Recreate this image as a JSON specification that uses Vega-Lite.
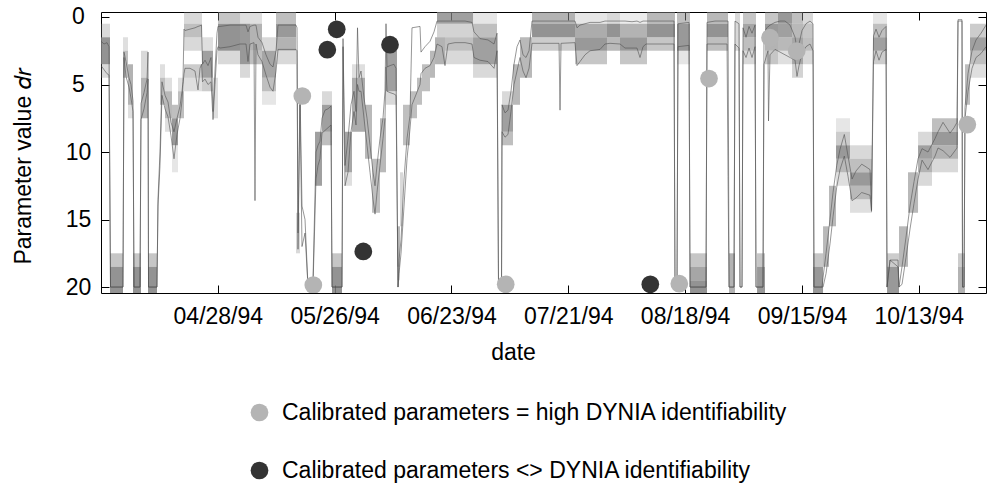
{
  "$schema": "https://vega.github.io/schema/vega-lite/v6.json",
  "width": 885,
  "height": 281,
  "autosize": {"type": "none"},
  "padding": {"left": 101, "top": 12, "right": 2, "bottom": 193},
  "config": {
    "view": {"stroke": "#000", "strokeWidth": 1},
    "font": "Liberation Sans",
    "axis": {"labelFont": "Liberation Sans", "titleFont": "Liberation Sans", "labelFontSize": 23, "titleFontSize": 23, "labelColor": "#000", "titleColor": "#000", "tickColor": "#000", "tickWidth": 1, "grid": false, "domain": false, "titleFontWeight": "normal"},
    "legend": {"labelFont": "Liberation Sans", "labelFontSize": 23, "labelColor": "#000", "labelLimit": 0}
  },
  "datasets": {
    "cells": [
      {"d0":90.00,"d1":92.16,"v0":1.5,"v1":3.5,"g":0.85},{"d0":90.00,"d1":92.16,"v0":0.5,"v1":1.5,"g":0.3},{"d0":90.00,"d1":92.16,"v0":3.5,"v1":4.5,"g":0.3},
      {"d0":92.16,"d1":95.27,"v0":17.5,"v1":18.5,"g":0.45},{"d0":92.16,"d1":95.27,"v0":18.5,"v1":20.5,"g":0.85},
      {"d0":95.27,"d1":96.47,"v0":2.5,"v1":4.5,"g":0.5},{"d0":95.27,"d1":96.47,"v0":1.5,"v1":2.5,"g":0.25},
      {"d0":96.47,"d1":97.67,"v0":3.5,"v1":6.5,"g":0.6},{"d0":96.47,"d1":97.67,"v0":6.5,"v1":7.5,"g":0.25},
      {"d0":97.67,"d1":99.59,"v0":17.5,"v1":18.5,"g":0.45},{"d0":97.67,"d1":99.59,"v0":18.5,"v1":20.5,"g":0.85},
      {"d0":99.59,"d1":101.27,"v0":4.5,"v1":7.5,"g":0.6},{"d0":99.59,"d1":101.27,"v0":2.5,"v1":4.5,"g":0.3},
      {"d0":101.27,"d1":103.42,"v0":17.5,"v1":18.5,"g":0.45},{"d0":101.27,"d1":103.42,"v0":18.5,"v1":20.5,"g":0.85},
      {"d0":104.14,"d1":105.34,"v0":4.5,"v1":6.5,"g":0.5},{"d0":104.14,"d1":105.34,"v0":3.5,"v1":4.5,"g":0.25},
      {"d0":105.34,"d1":107.02,"v0":5.5,"v1":7.5,"g":0.55},{"d0":105.34,"d1":107.02,"v0":4.5,"v1":5.5,"g":0.25},{"d0":105.34,"d1":107.02,"v0":7.5,"v1":8.5,"g":0.25},
      {"d0":107.02,"d1":108.46,"v0":7.5,"v1":9.5,"g":0.8},{"d0":107.02,"d1":108.46,"v0":6.5,"v1":7.5,"g":0.5},{"d0":107.02,"d1":108.46,"v0":9.5,"v1":11.5,"g":0.2},
      {"d0":108.46,"d1":109.89,"v0":5.5,"v1":7.5,"g":0.5},{"d0":108.46,"d1":109.89,"v0":4.5,"v1":5.5,"g":0.25},
      {"d0":109.89,"d1":114.21,"v0":-0.5,"v1":0.5,"g":0.3},{"d0":109.89,"d1":114.21,"v0":0.5,"v1":1.5,"g":0.5},{"d0":109.89,"d1":114.21,"v0":1.5,"v1":2.5,"g":0.3},{"d0":109.89,"d1":114.21,"v0":3.5,"v1":4.5,"g":0.4},{"d0":109.89,"d1":114.21,"v0":4.5,"v1":5.5,"g":0.25},
      {"d0":114.21,"d1":116.85,"v0":2.5,"v1":4.5,"g":0.75},{"d0":114.21,"d1":116.85,"v0":4.5,"v1":5.5,"g":0.4},{"d0":114.21,"d1":116.85,"v0":1.5,"v1":2.5,"g":0.25},
      {"d0":116.85,"d1":118.04,"v0":4.5,"v1":7.5,"g":0.25},
      {"d0":118.04,"d1":123.32,"v0":-0.5,"v1":0.5,"g":0.45},{"d0":118.04,"d1":123.32,"v0":0.5,"v1":2.5,"g":0.85},{"d0":118.04,"d1":123.32,"v0":2.5,"v1":3.5,"g":0.3},
      {"d0":123.32,"d1":125.71,"v0":0.5,"v1":3.5,"g":0.8},{"d0":123.32,"d1":125.71,"v0":-0.5,"v1":0.5,"g":0.25},{"d0":123.32,"d1":125.71,"v0":3.5,"v1":4.5,"g":0.3},
      {"d0":125.71,"d1":128.59,"v0":0.5,"v1":2.5,"g":0.6},{"d0":125.71,"d1":128.59,"v0":2.5,"v1":3.5,"g":0.5},{"d0":125.71,"d1":128.59,"v0":-0.5,"v1":0.5,"g":0.25},
      {"d0":128.59,"d1":131.95,"v0":2.5,"v1":4.5,"g":0.7},{"d0":128.59,"d1":131.95,"v0":4.5,"v1":5.5,"g":0.5},{"d0":128.59,"d1":131.95,"v0":1.5,"v1":2.5,"g":0.3},{"d0":128.59,"d1":131.95,"v0":5.5,"v1":6.5,"g":0.2},
      {"d0":131.95,"d1":136.74,"v0":-0.5,"v1":0.5,"g":0.5},{"d0":131.95,"d1":136.74,"v0":0.5,"v1":1.5,"g":0.8},{"d0":131.95,"d1":136.74,"v0":1.5,"v1":2.5,"g":0.6},{"d0":131.95,"d1":136.74,"v0":2.5,"v1":3.5,"g":0.3},
      {"d0":136.74,"d1":137.70,"v0":14.5,"v1":17.5,"g":0.3},
      {"d0":141.29,"d1":142.97,"v0":8.5,"v1":12.5,"g":0.75},
      {"d0":142.97,"d1":145.37,"v0":5.5,"v1":6.5,"g":0.3},{"d0":142.97,"d1":145.37,"v0":6.5,"v1":8.5,"g":0.75},{"d0":142.97,"d1":145.37,"v0":8.5,"v1":9.5,"g":0.5},
      {"d0":145.37,"d1":147.77,"v0":17.5,"v1":18.5,"g":0.45},{"d0":145.37,"d1":147.77,"v0":18.5,"v1":20.5,"g":0.85},
      {"d0":148.48,"d1":150.16,"v0":8.5,"v1":11.5,"g":0.7},{"d0":148.48,"d1":150.16,"v0":11.5,"v1":12.5,"g":0.25},
      {"d0":150.16,"d1":153.28,"v0":4.5,"v1":8.5,"g":0.65},{"d0":150.16,"d1":153.28,"v0":3.5,"v1":4.5,"g":0.25},
      {"d0":153.28,"d1":154.96,"v0":6.5,"v1":10.5,"g":0.55},
      {"d0":154.96,"d1":156.87,"v0":10.5,"v1":14.5,"g":0.5},
      {"d0":156.87,"d1":158.31,"v0":7.5,"v1":11.5,"g":0.55},
      {"d0":158.31,"d1":160.95,"v0":2.5,"v1":5.5,"g":0.75},{"d0":158.31,"d1":160.95,"v0":5.5,"v1":6.5,"g":0.3},
      {"d0":160.95,"d1":161.67,"v0":15.5,"v1":18.5,"g":0.55},{"d0":160.95,"d1":161.67,"v0":18.5,"v1":19.5,"g":0.25},
      {"d0":161.67,"d1":162.39,"v0":11.5,"v1":15.5,"g":0.3},
      {"d0":162.39,"d1":164.06,"v0":6.5,"v1":9.5,"g":0.5},
      {"d0":164.06,"d1":165.74,"v0":5.5,"v1":7.5,"g":0.5},
      {"d0":165.74,"d1":166.94,"v0":4.5,"v1":6.5,"g":0.5},
      {"d0":166.94,"d1":168.86,"v0":3.5,"v1":5.5,"g":0.5},
      {"d0":168.86,"d1":170.06,"v0":2.5,"v1":4.5,"g":0.55},
      {"d0":170.06,"d1":172.45,"v0":1.5,"v1":3.5,"g":0.6},
      {"d0":170.54,"d1":179.17,"v0":-0.5,"v1":0.5,"g":0.75},{"d0":170.54,"d1":179.17,"v0":0.5,"v1":1.5,"g":0.35},
      {"d0":172.45,"d1":179.17,"v0":1.5,"v1":2.5,"g":0.5},{"d0":172.45,"d1":179.17,"v0":2.5,"v1":3.5,"g":0.3},
      {"d0":179.17,"d1":184.92,"v0":-0.5,"v1":0.5,"g":0.2},{"d0":179.17,"d1":184.92,"v0":0.5,"v1":1.5,"g":0.5},{"d0":179.17,"d1":184.92,"v0":1.5,"v1":3.5,"g":0.75},{"d0":179.17,"d1":184.92,"v0":3.5,"v1":4.5,"g":0.3},
      {"d0":186.12,"d1":188.75,"v0":5.5,"v1":6.5,"g":0.3},{"d0":186.12,"d1":188.75,"v0":6.5,"v1":8.5,"g":0.75},{"d0":186.12,"d1":188.75,"v0":8.5,"v1":9.5,"g":0.5},
      {"d0":188.75,"d1":190.43,"v0":3.5,"v1":6.5,"g":0.55},
      {"d0":190.43,"d1":193.31,"v0":1.5,"v1":4.5,"g":0.55},
      {"d0":193.31,"d1":203.61,"v0":-0.5,"v1":0.5,"g":0.6},{"d0":193.31,"d1":203.61,"v0":0.5,"v1":1.5,"g":0.85},{"d0":193.31,"d1":203.61,"v0":1.5,"v1":2.5,"g":0.4},
      {"d0":203.61,"d1":211.28,"v0":-0.5,"v1":0.5,"g":0.2},{"d0":203.61,"d1":211.28,"v0":0.5,"v1":1.5,"g":0.65},{"d0":203.61,"d1":211.28,"v0":1.5,"v1":2.5,"g":0.8},{"d0":203.61,"d1":211.28,"v0":2.5,"v1":3.5,"g":0.45},
      {"d0":211.28,"d1":214.40,"v0":-0.5,"v1":0.5,"g":0.3},{"d0":211.28,"d1":214.40,"v0":0.5,"v1":1.5,"g":0.85},{"d0":211.28,"d1":214.40,"v0":1.5,"v1":2.5,"g":0.55},
      {"d0":214.40,"d1":220.87,"v0":-0.5,"v1":0.5,"g":0.15},{"d0":214.40,"d1":220.87,"v0":0.5,"v1":1.5,"g":0.6},{"d0":214.40,"d1":220.87,"v0":1.5,"v1":2.5,"g":0.8},{"d0":214.40,"d1":220.87,"v0":2.5,"v1":3.5,"g":0.45},
      {"d0":220.87,"d1":227.58,"v0":-0.5,"v1":0.5,"g":0.55},{"d0":220.87,"d1":227.58,"v0":0.5,"v1":1.5,"g":0.85},{"d0":220.87,"d1":227.58,"v0":1.5,"v1":2.5,"g":0.45},
      {"d0":228.06,"d1":231.18,"v0":-0.5,"v1":0.5,"g":0.5},{"d0":228.06,"d1":231.18,"v0":0.5,"v1":2.5,"g":0.8},{"d0":228.06,"d1":231.18,"v0":2.5,"v1":3.5,"g":0.2},
      {"d0":231.18,"d1":235.25,"v0":17.5,"v1":18.5,"g":0.45},{"d0":231.18,"d1":235.25,"v0":18.5,"v1":19.5,"g":0.7},{"d0":231.18,"d1":235.25,"v0":19.5,"v1":20.5,"g":0.85},
      {"d0":235.25,"d1":240.29,"v0":-0.5,"v1":0.5,"g":0.55},{"d0":235.25,"d1":240.29,"v0":0.5,"v1":1.5,"g":0.85},{"d0":235.25,"d1":240.29,"v0":1.5,"v1":2.5,"g":0.5},
      {"d0":240.53,"d1":241.96,"v0":17.5,"v1":20.5,"g":0.6},
      {"d0":241.96,"d1":243.16,"v0":-0.5,"v1":2.5,"g":0.3},
      {"d0":243.88,"d1":247.00,"v0":-0.5,"v1":0.5,"g":0.45},{"d0":243.88,"d1":247.00,"v0":0.5,"v1":1.5,"g":0.7},{"d0":243.88,"d1":247.00,"v0":1.5,"v1":2.5,"g":0.5},{"d0":243.88,"d1":247.00,"v0":2.5,"v1":3.5,"g":0.3},
      {"d0":247.24,"d1":249.15,"v0":17.5,"v1":18.5,"g":0.45},{"d0":247.24,"d1":249.15,"v0":18.5,"v1":20.5,"g":0.8},
      {"d0":249.15,"d1":252.27,"v0":-0.5,"v1":0.5,"g":0.45},{"d0":249.15,"d1":252.27,"v0":0.5,"v1":1.5,"g":0.8},{"d0":249.15,"d1":252.27,"v0":1.5,"v1":2.5,"g":0.6},{"d0":249.15,"d1":252.27,"v0":2.5,"v1":3.5,"g":0.45},
      {"d0":252.27,"d1":255.63,"v0":-0.5,"v1":0.5,"g":0.8},{"d0":252.27,"d1":255.63,"v0":0.5,"v1":1.5,"g":0.75},{"d0":252.27,"d1":255.63,"v0":1.5,"v1":2.5,"g":0.55},{"d0":252.27,"d1":255.63,"v0":2.5,"v1":3.5,"g":0.25},
      {"d0":255.63,"d1":258.26,"v0":-0.5,"v1":0.5,"g":0.5},{"d0":255.63,"d1":258.26,"v0":0.5,"v1":1.5,"g":0.55},{"d0":255.63,"d1":258.26,"v0":1.5,"v1":3.5,"g":0.7},{"d0":255.63,"d1":258.26,"v0":3.5,"v1":4.5,"g":0.35},
      {"d0":258.26,"d1":260.66,"v0":-0.5,"v1":0.5,"g":0.3},{"d0":258.26,"d1":260.66,"v0":0.5,"v1":1.5,"g":0.45},{"d0":258.26,"d1":260.66,"v0":1.5,"v1":2.5,"g":0.5},{"d0":258.26,"d1":260.66,"v0":2.5,"v1":3.5,"g":0.3},
      {"d0":260.66,"d1":263.06,"v0":17.5,"v1":18.5,"g":0.45},{"d0":260.66,"d1":263.06,"v0":18.5,"v1":20.5,"g":0.8},
      {"d0":263.06,"d1":264.49,"v0":15.5,"v1":18.5,"g":0.55},
      {"d0":264.49,"d1":266.17,"v0":12.5,"v1":15.5,"g":0.55},
      {"d0":266.17,"d1":269.53,"v0":7.5,"v1":8.5,"g":0.2},{"d0":266.17,"d1":269.53,"v0":8.5,"v1":9.5,"g":0.4},{"d0":266.17,"d1":269.53,"v0":9.5,"v1":10.5,"g":0.8},{"d0":266.17,"d1":269.53,"v0":10.5,"v1":11.5,"g":0.55},{"d0":266.17,"d1":269.53,"v0":11.5,"v1":12.5,"g":0.25},
      {"d0":269.53,"d1":274.80,"v0":9.5,"v1":10.5,"g":0.3},{"d0":269.53,"d1":274.80,"v0":10.5,"v1":11.5,"g":0.5},{"d0":269.53,"d1":274.80,"v0":11.5,"v1":12.5,"g":0.8},{"d0":269.53,"d1":274.80,"v0":12.5,"v1":13.5,"g":0.55},{"d0":269.53,"d1":274.80,"v0":13.5,"v1":14.5,"g":0.25},
      {"d0":275.04,"d1":278.40,"v0":-0.5,"v1":0.5,"g":0.2},{"d0":275.04,"d1":278.40,"v0":0.5,"v1":1.5,"g":0.5},{"d0":275.04,"d1":278.40,"v0":1.5,"v1":2.5,"g":0.75},{"d0":275.04,"d1":278.40,"v0":2.5,"v1":3.5,"g":0.4},
      {"d0":278.40,"d1":281.27,"v0":17.5,"v1":18.5,"g":0.4},{"d0":278.40,"d1":281.27,"v0":18.5,"v1":20.5,"g":0.8},
      {"d0":281.27,"d1":283.43,"v0":15.5,"v1":18.5,"g":0.55},
      {"d0":283.43,"d1":285.83,"v0":11.5,"v1":14.5,"g":0.55},
      {"d0":285.83,"d1":289.18,"v0":8.5,"v1":9.5,"g":0.3},{"d0":285.83,"d1":289.18,"v0":9.5,"v1":10.5,"g":0.75},{"d0":285.83,"d1":289.18,"v0":10.5,"v1":11.5,"g":0.6},{"d0":285.83,"d1":289.18,"v0":11.5,"v1":12.5,"g":0.3},
      {"d0":289.18,"d1":295.41,"v0":7.5,"v1":8.5,"g":0.5},{"d0":289.18,"d1":295.41,"v0":8.5,"v1":9.5,"g":0.8},{"d0":289.18,"d1":295.41,"v0":9.5,"v1":10.5,"g":0.6},{"d0":289.18,"d1":295.41,"v0":10.5,"v1":11.5,"g":0.3},
      {"d0":295.41,"d1":297.09,"v0":17.5,"v1":18.5,"g":0.4},{"d0":295.41,"d1":297.09,"v0":18.5,"v1":20.5,"g":0.6},
      {"d0":297.09,"d1":298.29,"v0":3.5,"v1":6.5,"g":0.5},
      {"d0":298.29,"d1":302.12,"v0":0.5,"v1":1.5,"g":0.4},{"d0":298.29,"d1":302.12,"v0":1.5,"v1":2.5,"g":0.75},{"d0":298.29,"d1":302.12,"v0":2.5,"v1":3.5,"g":0.5},{"d0":298.29,"d1":302.12,"v0":3.5,"v1":4.5,"g":0.25}
    ],
    "bounds": [
      {"doy":90.00,"a":1.8,"b":3.6},{"doy":90.72,"a":2.0,"b":3.9},{"doy":91.44,"a":1.9,"b":4.2},{"doy":91.92,"a":2.2,"b":4.3},
      {"doy":92.28,"a":20,"b":20},{"doy":95.27,"a":20,"b":20},{"doy":95.51,"a":2.6,"b":3.0},{"doy":95.99,"a":3.3,"b":4.4},
      {"doy":96.71,"a":4.5,"b":5.2},{"doy":97.19,"a":5.0,"b":6.0},{"doy":97.67,"a":6.2,"b":7.0},{"doy":97.91,"a":20,"b":20},
      {"doy":99.35,"a":20,"b":20},{"doy":99.59,"a":6.4,"b":7.6},{"doy":100.31,"a":5.6,"b":6.8},{"doy":101.03,"a":4.6,"b":5.6},
      {"doy":101.27,"a":2.6,"b":4.6},{"doy":101.39,"a":20,"b":20},{"doy":103.42,"a":20,"b":20},{"doy":103.66,"a":13.5,"b":14.0},
      {"doy":104.14,"a":10.0,"b":11.0},{"doy":104.62,"a":4.8,"b":5.8},{"doy":105.34,"a":5.8,"b":6.8},{"doy":106.06,"a":6.3,"b":7.4},
      {"doy":106.78,"a":7.8,"b":8.8},{"doy":107.50,"a":8.5,"b":10.5},{"doy":108.22,"a":7.5,"b":8.7},{"doy":108.94,"a":6.6,"b":7.5},
      {"doy":109.42,"a":5.5,"b":6.2},{"doy":109.65,"a":4.8,"b":5.0},{"doy":109.89,"a":0.9,"b":4.2},{"doy":110.13,"a":1.0,"b":3.8},
      {"doy":111.33,"a":0.9,"b":3.8},{"doy":112.53,"a":0.8,"b":4.0},{"doy":113.25,"a":0.7,"b":5.4},{"doy":113.73,"a":0.65,"b":3.8},
      {"doy":114.09,"a":0.6,"b":3.5},{"doy":114.33,"a":3.5,"b":4.8},{"doy":114.93,"a":3.2,"b":4.6},{"doy":115.65,"a":3.6,"b":5.0},
      {"doy":116.37,"a":3.0,"b":4.8},{"doy":116.85,"a":7.0,"b":7.6},{"doy":117.32,"a":4.0,"b":5.0},{"doy":117.80,"a":1.2,"b":2.5},
      {"doy":118.04,"a":0.7,"b":2.2},{"doy":118.52,"a":0.7,"b":2.3},{"doy":120.92,"a":0.6,"b":2.2},{"doy":123.32,"a":0.6,"b":2.0},
      {"doy":124.76,"a":0.6,"b":2.0},{"doy":125.23,"a":1.1,"b":3.3},{"doy":125.71,"a":0.7,"b":2.0},{"doy":126.67,"a":0.6,"b":1.9},
      {"doy":126.91,"a":0.6,"b":13.6},{"doy":127.15,"a":0.6,"b":2.0},{"doy":127.63,"a":1.5,"b":2.8},{"doy":128.59,"a":1.9,"b":3.3},
      {"doy":129.55,"a":2.8,"b":4.3},{"doy":130.51,"a":3.5,"b":5.2},{"doy":131.23,"a":3.7,"b":5.5},{"doy":131.95,"a":2.5,"b":4.0},
      {"doy":132.43,"a":0.6,"b":2.4},{"doy":133.38,"a":0.6,"b":2.4},{"doy":135.30,"a":0.6,"b":2.4},{"doy":136.74,"a":0.6,"b":2.4},
      {"doy":136.98,"a":0.8,"b":2.5},{"doy":137.22,"a":16.0,"b":17.2},{"doy":137.70,"a":5.5,"b":6.5},{"doy":138.18,"a":14.0,"b":17.0},
      {"doy":138.90,"a":15.0,"b":16.0},{"doy":139.62,"a":20,"b":20},{"doy":140.81,"a":19.5,"b":20},{"doy":141.53,"a":10.0,"b":12.0},
      {"doy":142.01,"a":9.5,"b":11.0},{"doy":142.49,"a":9.2,"b":10.5},{"doy":142.97,"a":7.5,"b":8.6},{"doy":143.69,"a":6.9,"b":8.4},
      {"doy":144.41,"a":6.8,"b":8.2},{"doy":145.13,"a":6.6,"b":8.0},{"doy":145.37,"a":20,"b":20},{"doy":147.77,"a":20,"b":20},
      {"doy":148.01,"a":1.6,"b":2.2},{"doy":148.48,"a":11.0,"b":12.5},{"doy":149.20,"a":9.0,"b":11.5},{"doy":149.92,"a":6.5,"b":8.5},
      {"doy":150.64,"a":5.5,"b":7.0},{"doy":151.12,"a":7.0,"b":8.0},{"doy":151.48,"a":0.8,"b":5.0},{"doy":151.84,"a":4.5,"b":5.5},
      {"doy":152.32,"a":4.0,"b":5.5},{"doy":153.04,"a":6.0,"b":7.5},{"doy":153.76,"a":7.5,"b":9.5},{"doy":154.48,"a":9.5,"b":11.5},
      {"doy":155.20,"a":11.5,"b":13.5},{"doy":155.68,"a":12.5,"b":14.6},{"doy":156.15,"a":11.0,"b":13.0},{"doy":156.87,"a":9.0,"b":11.0},
      {"doy":157.59,"a":7.5,"b":9.0},{"doy":158.07,"a":5.5,"b":7.5},{"doy":158.31,"a":0.5,"b":3.7},{"doy":158.55,"a":3.7,"b":5.5},
      {"doy":159.27,"a":3.6,"b":5.6},{"doy":160.23,"a":3.5,"b":5.7},{"doy":160.71,"a":3.8,"b":5.8},{"doy":161.19,"a":20,"b":20},
      {"doy":161.43,"a":18.0,"b":19.0},{"doy":161.91,"a":16.5,"b":17.5},{"doy":162.63,"a":12.0,"b":14.0},{"doy":163.35,"a":9.0,"b":10.5},
      {"doy":164.06,"a":7.3,"b":8.3},{"doy":164.54,"a":0.8,"b":6.5},{"doy":166.46,"a":0.7,"b":5.0},{"doy":166.70,"a":2.6,"b":4.2},
      {"doy":167.66,"a":2.2,"b":3.8},{"doy":168.86,"a":1.8,"b":3.6},{"doy":169.82,"a":1.1,"b":3.0},{"doy":170.54,"a":0.3,"b":2.0},
      {"doy":171.73,"a":0.3,"b":2.2},{"doy":172.45,"a":0.3,"b":3.6},{"doy":173.17,"a":0.3,"b":2.0},{"doy":174.85,"a":0.3,"b":1.9},
      {"doy":177.25,"a":0.3,"b":1.9},{"doy":178.93,"a":0.4,"b":2.0},{"doy":179.40,"a":1.1,"b":3.0},{"doy":180.84,"a":1.6,"b":3.2},
      {"doy":182.76,"a":1.7,"b":3.3},{"doy":184.20,"a":2.0,"b":3.8},{"doy":184.92,"a":1.2,"b":2.5},{"doy":185.28,"a":20,"b":20},
      {"doy":186.00,"a":20,"b":20},{"doy":186.12,"a":6.5,"b":8.5},{"doy":186.83,"a":7.1,"b":8.9},{"doy":187.55,"a":6.9,"b":8.7},
      {"doy":188.27,"a":5.5,"b":7.0},{"doy":188.99,"a":3.5,"b":5.0},{"doy":189.71,"a":2.2,"b":4.0},{"doy":190.43,"a":1.7,"b":3.0},
      {"doy":191.15,"a":2.8,"b":4.0},{"doy":191.87,"a":3.0,"b":4.5},{"doy":192.59,"a":2.5,"b":3.8},{"doy":193.31,"a":0.3,"b":1.95},
      {"doy":196.42,"a":0.3,"b":1.95},{"doy":199.78,"a":0.3,"b":1.95},{"doy":200.02,"a":0.3,"b":6.9},{"doy":200.26,"a":0.3,"b":1.95},
      {"doy":203.61,"a":0.3,"b":1.9},{"doy":204.09,"a":0.8,"b":3.6},{"doy":204.81,"a":0.6,"b":3.3},{"doy":206.01,"a":0.5,"b":2.8},
      {"doy":207.21,"a":0.4,"b":2.5},{"doy":209.61,"a":0.4,"b":2.4},{"doy":210.80,"a":0.3,"b":2.0},{"doy":212.00,"a":0.3,"b":1.95},
      {"doy":214.40,"a":0.3,"b":2.0},{"doy":215.60,"a":0.3,"b":2.3},{"doy":217.28,"a":0.35,"b":2.3},{"doy":218.47,"a":0.3,"b":2.3},
      {"doy":219.19,"a":0.4,"b":3.0},{"doy":219.91,"a":0.3,"b":2.2},{"doy":220.63,"a":0.3,"b":2.0},{"doy":223.99,"a":0.3,"b":2.0},
      {"doy":227.34,"a":0.3,"b":2.0},{"doy":227.58,"a":20,"b":20},{"doy":228.06,"a":20,"b":20},{"doy":228.30,"a":0.5,"b":2.2},
      {"doy":230.94,"a":0.4,"b":2.1},{"doy":231.18,"a":20,"b":20},{"doy":235.01,"a":20,"b":20},{"doy":235.25,"a":0.4,"b":2.0},
      {"doy":237.17,"a":0.3,"b":2.0},{"doy":240.05,"a":0.3,"b":2.0},{"doy":240.29,"a":0.3,"b":11.8},{"doy":240.53,"a":20,"b":20},
      {"doy":241.72,"a":20,"b":20},{"doy":241.96,"a":0.3,"b":2.0},{"doy":242.92,"a":0.5,"b":2.3},{"doy":243.16,"a":20,"b":20},
      {"doy":243.64,"a":20,"b":20},{"doy":243.88,"a":0.8,"b":2.5},{"doy":244.60,"a":1.5,"b":3.0},{"doy":245.32,"a":0.7,"b":2.3},
      {"doy":246.04,"a":1.2,"b":3.0},{"doy":246.76,"a":0.6,"b":2.2},{"doy":247.00,"a":20,"b":20},{"doy":248.67,"a":20,"b":20},
      {"doy":248.91,"a":1.5,"b":3.5},{"doy":249.39,"a":0.9,"b":3.0},{"doy":249.87,"a":0.7,"b":2.5},{"doy":249.99,"a":0.7,"b":7.7},
      {"doy":250.35,"a":0.6,"b":2.8},{"doy":251.55,"a":0.4,"b":2.4},{"doy":252.75,"a":0.3,"b":2.6},{"doy":253.95,"a":0.3,"b":2.8},
      {"doy":255.15,"a":0.6,"b":3.0},{"doy":256.35,"a":1.5,"b":3.2},{"doy":256.82,"a":2.4,"b":4.4},{"doy":257.30,"a":2.0,"b":3.6},
      {"doy":258.02,"a":1.0,"b":2.7},{"doy":258.98,"a":0.5,"b":2.2},{"doy":259.94,"a":0.3,"b":2.0},{"doy":260.66,"a":0.5,"b":2.5},
      {"doy":260.90,"a":20,"b":20},{"doy":262.82,"a":20,"b":20},{"doy":263.06,"a":19.3,"b":20},{"doy":263.78,"a":17.5,"b":19.0},
      {"doy":264.73,"a":15.0,"b":16.8},{"doy":265.45,"a":13.0,"b":14.8},{"doy":266.34,"a":11.0,"b":12.6},{"doy":267.13,"a":9.8,"b":11.3},
      {"doy":268.16,"a":8.7,"b":10.3},{"doy":269.05,"a":10.3,"b":11.8},{"doy":270.01,"a":12.0,"b":13.6},{"doy":270.97,"a":11.4,"b":13.4},
      {"doy":272.33,"a":10.9,"b":13.0},{"doy":273.36,"a":11.1,"b":13.1},{"doy":274.32,"a":11.3,"b":13.2},{"doy":274.68,"a":14.3,"b":14.4},
      {"doy":275.16,"a":1.4,"b":3.3},{"doy":275.76,"a":0.9,"b":2.5},{"doy":276.48,"a":1.5,"b":3.2},{"doy":277.20,"a":1.0,"b":2.6},
      {"doy":278.16,"a":0.7,"b":2.4},{"doy":278.40,"a":20,"b":20},{"doy":279.12,"a":18.0,"b":18.0},{"doy":281.03,"a":18.0,"b":18.5},
      {"doy":281.27,"a":20,"b":20},{"doy":281.99,"a":18.5,"b":19.8},{"doy":282.95,"a":16.3,"b":17.8},{"doy":283.91,"a":14.0,"b":15.7},
      {"doy":284.87,"a":12.2,"b":13.8},{"doy":285.83,"a":10.5,"b":12.0},{"doy":286.79,"a":9.75,"b":10.6},{"doy":288.22,"a":10.0,"b":11.3},
      {"doy":289.90,"a":9.0,"b":10.3},{"doy":290.62,"a":8.5,"b":9.7},{"doy":291.82,"a":7.8,"b":9.9},{"doy":293.50,"a":8.6,"b":10.4},
      {"doy":294.46,"a":8.2,"b":10.0},{"doy":295.17,"a":7.8,"b":9.7},{"doy":295.41,"a":0.2,"b":0.3},{"doy":296.37,"a":0.2,"b":0.3},
      {"doy":296.49,"a":20,"b":20},{"doy":296.85,"a":20,"b":20},{"doy":297.09,"a":6.7,"b":7.5},{"doy":297.81,"a":4.2,"b":5.5},
      {"doy":298.77,"a":2.5,"b":3.8},{"doy":299.73,"a":1.7,"b":3.0},{"doy":300.93,"a":1.2,"b":2.7},{"doy":302.13,"a":0.6,"b":2.2}
    ],
    "points": [
      {"doy":138.25,"v":5.85,"cls":"Calibrated parameters = high DYNIA identifiability"},
      {"doy":140.89,"v":19.85,"cls":"Calibrated parameters = high DYNIA identifiability"},
      {"doy":187.00,"v":19.8,"cls":"Calibrated parameters = high DYNIA identifiability"},
      {"doy":228.61,"v":19.75,"cls":"Calibrated parameters = high DYNIA identifiability"},
      {"doy":235.73,"v":4.56,"cls":"Calibrated parameters = high DYNIA identifiability"},
      {"doy":250.35,"v":1.53,"cls":"Calibrated parameters = high DYNIA identifiability"},
      {"doy":256.75,"v":2.52,"cls":"Calibrated parameters = high DYNIA identifiability"},
      {"doy":297.64,"v":7.97,"cls":"Calibrated parameters = high DYNIA identifiability"},
      {"doy":144.24,"v":2.42,"cls":"Calibrated parameters <> DYNIA identifiability"},
      {"doy":146.50,"v":0.91,"cls":"Calibrated parameters <> DYNIA identifiability"},
      {"doy":159.27,"v":2.05,"cls":"Calibrated parameters <> DYNIA identifiability"},
      {"doy":152.87,"v":17.36,"cls":"Calibrated parameters <> DYNIA identifiability"},
      {"doy":221.66,"v":19.8,"cls":"Calibrated parameters <> DYNIA identifiability"}
    ]
  },
  "layer": [
    {
      "data": {"name": "cells"},
      "mark": {"type": "rect", "fill": "#808080", "clip": true},
      "encoding": {
        "x": {"field": "d0", "type": "quantitative",
              "scale": {"domain": [90, 302.12], "nice": false, "zero": false},
              "axis": {"orient": "bottom", "values": [118, 146, 174, 202, 230, 258, 286],
                       "labelExpr": "timeFormat(datetime(1994, 0, datum.value), '%m/%d/%y')",
                       "tickSize": -8, "labelPadding": 20, "labelFlush": false,
                       "title": "date", "titleX": 412, "titleY": 59, "titleBaseline": "middle", "titleAlign": "center"}},
        "x2": {"field": "d1"},
        "y": {"field": "v0", "type": "quantitative",
              "scale": {"domain": [-0.37, 20.44], "reverse": true, "nice": false, "zero": false},
              "axis": {"orient": "left", "values": [0, 5, 10, 15, 20], "tickSize": -8, "labelPadding": 31,
                       "labelAlign": "center", "labelFlush": false,
                       "title": "Parameter value 𝑑𝑟", "titleX": -78, "titleY": 154, "titleAngle": -90,
                       "titleBaseline": "middle", "titleAlign": "center"}},
        "y2": {"field": "v1"},
        "opacity": {"field": "g", "type": "quantitative", "scale": null}
      }
    },
    {
      "data": {"name": "bounds"},
      "mark": {"type": "line", "stroke": "#505050", "strokeWidth": 0.6, "clip": true},
      "encoding": {
        "x": {"field": "doy", "type": "quantitative",
              "scale": {"domain": [90, 302.12], "nice": false, "zero": false},
              "axis": {"orient": "top", "values": [118, 146, 174, 202, 230, 258, 286], "labels": false, "tickSize": -8, "title": null}},
        "y": {"field": "a", "type": "quantitative",
              "scale": {"domain": [-0.37, 20.44], "reverse": true, "nice": false, "zero": false},
              "axis": {"orient": "right", "values": [0, 5, 10, 15, 20], "labels": false, "tickSize": -8, "title": null}}
      }
    },
    {
      "data": {"name": "bounds"},
      "mark": {"type": "line", "stroke": "#505050", "strokeWidth": 0.6, "clip": true},
      "encoding": {
        "x": {"field": "doy", "type": "quantitative", "scale": {"domain": [90, 302.12], "nice": false, "zero": false}, "axis": null},
        "y": {"field": "b", "type": "quantitative", "scale": {"domain": [-0.37, 20.44], "reverse": true, "nice": false, "zero": false}, "axis": null}
      }
    },
    {
      "data": {"name": "points"},
      "mark": {"type": "point", "filled": true, "shape": "circle", "size": 314, "opacity": 1, "clip": true},
      "encoding": {
        "x": {"field": "doy", "type": "quantitative", "scale": {"domain": [90, 302.12], "nice": false, "zero": false}, "axis": null},
        "y": {"field": "v", "type": "quantitative", "scale": {"domain": [-0.37, 20.44], "reverse": true, "nice": false, "zero": false}, "axis": null},
        "color": {"field": "cls", "type": "nominal",
                  "scale": {"domain": ["Calibrated parameters = high DYNIA identifiability", "Calibrated parameters <> DYNIA identifiability"], "range": ["#b4b4b4", "#333333"]},
                  "legend": {"orient": "none", "legendX": 147, "legendY": 389, "direction": "vertical", "title": null,
                             "symbolType": "circle", "symbolSize": 314, "symbolStrokeWidth": 0, "rowPadding": 34, "labelOffset": 11}}
      }
    }
  ],
  "resolve": {"axis": {"x": "independent", "y": "independent"}}
}
